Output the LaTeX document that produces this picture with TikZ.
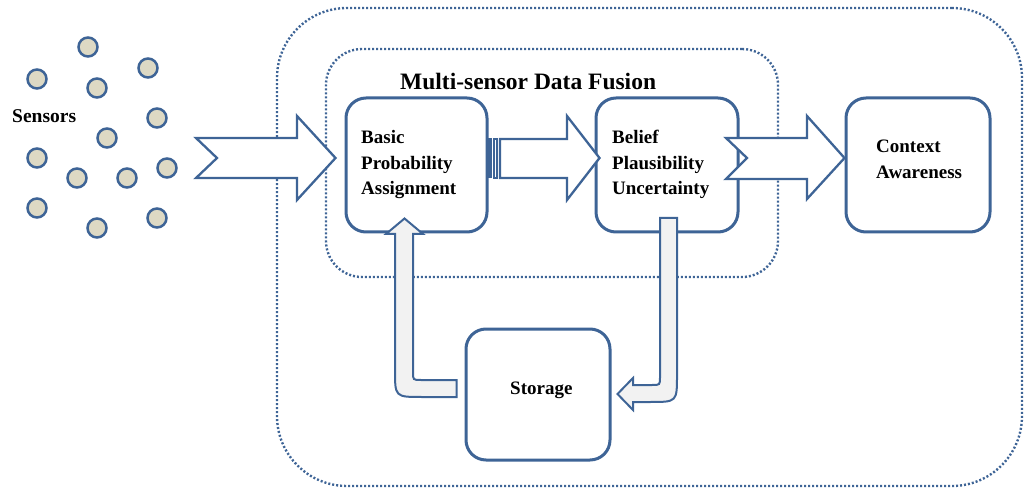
\documentclass[tikz,border=0pt]{standalone}
\usepackage{fontspec}
\setmainfont{Liberation Serif}
\usetikzlibrary{calc}

\definecolor{edge}{RGB}{62,100,150}
\definecolor{sensorfill}{RGB}{221,217,196}
\definecolor{bendfill}{RGB}{242,242,242}

\tikzset{
  region/.style={draw=edge, line width=2.4pt, dash pattern=on 2pt off 2pt,
                 rectangle, inner sep=0pt},
  stagebox/.style={draw=edge, line width=3pt, rectangle, rounded corners=20pt,
                   inner sep=0pt, fill=white},
  sensor/.style={draw=edge, line width=2.5pt, circle, fill=sensorfill,
                 minimum size=19pt, inner sep=0pt},
  blockarrow/.style={draw=edge, line width=2.3pt, fill=white, line join=miter},
  bentarrow/.style={draw=edge, line width=2pt, fill=bendfill, line join=miter},
  label/.style={font=\fontsize{19}{25.5}\selectfont\bfseries, inner sep=0pt,
                anchor=base west},
}

\begin{document}
\begin{tikzpicture}[x=1pt, y=-1pt]
\useasboundingbox (0,0) rectangle (1026,489);

% containers
\node[region, rounded corners=70pt, minimum width=745pt, minimum height=478pt]
  (system) at (649.5,247) {};
\node[region, rounded corners=36pt, minimum width=452pt, minimum height=228pt]
  (fusion) at (552,163) {};
\node[label, font=\fontsize{23.5}{27}\selectfont\bfseries] (title) at (400,90)
  {Multi-sensor Data Fusion};

% sensor field
\foreach \n/\p in {1/{(88,47)}, 2/{(37,79)}, 3/{(148,68)}, 4/{(97,88)},
                   5/{(157,118)}, 6/{(107,138)}, 7/{(37,158)}, 8/{(77,178)},
                   9/{(127,178)}, 10/{(167,168)}, 11/{(37,208)}, 12/{(97,228)},
                   13/{(157,218)}}
  \node[sensor] (s\n) at \p {};
\node[label, font=\fontsize{19.5}{25.5}\selectfont\bfseries] (sensors) at (12,123) {Sensors};

% processing stages
\node[stagebox, minimum width=141pt, minimum height=134pt] (bpa) at (416.5,165) {};
\node[stagebox, minimum width=142pt, minimum height=134pt] (belief) at (667,165) {};
\node[stagebox, minimum width=144pt, minimum height=134pt] (context) at (918,165) {};
\node[stagebox, minimum width=144pt, minimum height=131pt] (storage) at (538,394.5) {};

% sensors -> basic probability assignment
\draw[blockarrow] (196,138) -- (297,138) -- (297,116) -- ($(bpa.west)+(-9,-7)$)
  -- (297,200) -- (297,178) -- (196,178) -- (217,158) -- cycle;

% basic probability assignment -> belief (striped arrow)
\draw[edge, fill=edge, line width=1pt] (488,139) rectangle (491,178);
\draw[blockarrow, line width=1.6pt] (494,139) rectangle (497,178);
\draw[blockarrow] (500,139) -- (567,139) -- (567,116) -- ($(belief.west)+(5,-7)$)
  -- (567,200) -- (567,178) -- (500,178) -- cycle;

% belief -> context awareness
\draw[blockarrow] (726,138) -- (807,138) -- (807,116) -- ($(context.west)+(0,-7)$)
  -- (807,199) -- (807,179) -- (726,179) -- (747,158) -- cycle;

% storage -> basic probability assignment
\coordinate (uptip) at ($(bpa.south)+(-12,-15)$);
\draw[bentarrow] ($(storage.west)+(-8,2.5)$) -- (422,397)
  .. controls (395,397) .. (395,370) -- (395,234) -- (386,234) -- (uptip)
  -- (423,234) -- (413,234) -- (413,372) .. controls (413,380) .. (421,380)
  -- ($(storage.west)+(-8,-14.5)$) -- cycle;

% belief -> storage
\coordinate (downtip) at ($(storage.east)+(6,-0.5)$);
\draw[bentarrow] (660,218) -- (677,218) -- (677,375)
  .. controls (677,402) .. (650,402) -- (633,402) -- (633,410) -- (downtip)
  -- (633,378) -- (633,385) -- (652,385) .. controls (660,385) .. (660,377)
  -- cycle;

% stage labels
\node[label] (bpatext) at (361,144)
  {\begin{tabular}[t]{@{}l@{}}Basic\\Probability\\Assignment\end{tabular}};
\node[label] (belieftext) at (612,144)
  {\begin{tabular}[t]{@{}l@{}}Belief\\Plausibility\\Uncertainty\end{tabular}};
\node[label] (contexttext) at (876,153)
  {\begin{tabular}[t]{@{}l@{}}Context\\Awareness\end{tabular}};
\node[label] (storagetext) at (510,394) {Storage};

\end{tikzpicture}
\end{document}
